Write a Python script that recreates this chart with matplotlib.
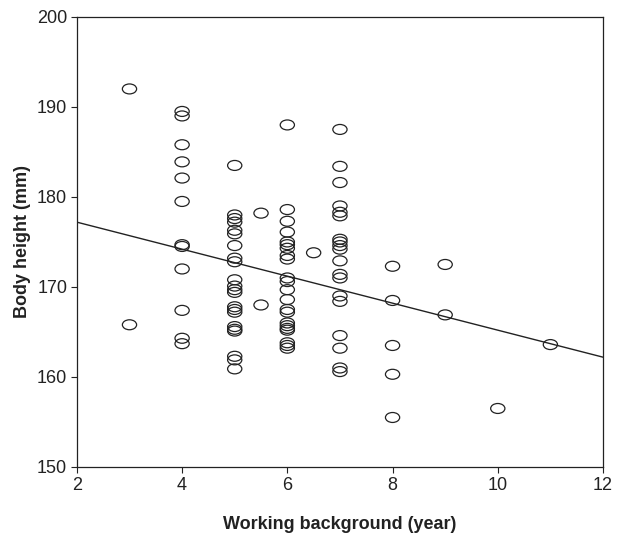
import matplotlib
matplotlib.use("Agg")
import matplotlib.pyplot as plt
import numpy as np
from matplotlib.path import Path
from matplotlib.transforms import Affine2D

plt.rcParams['font.family'] = ['Liberation Sans', 'DejaVu Sans']

x_years = [3, 3,
           4, 4, 4, 4, 4, 4, 4, 4, 4, 4, 4, 4,
           5, 5, 5, 5, 5, 5, 5, 5, 5, 5, 5, 5, 5, 5, 5, 5, 5, 5, 5, 5, 5, 5,
           5.5, 5.5,
           6, 6, 6, 6, 6, 6, 6, 6, 6, 6, 6, 6, 6, 6, 6, 6, 6, 6, 6, 6, 6, 6,
           6.5,
           7, 7, 7, 7, 7, 7, 7, 7, 7, 7, 7, 7, 7, 7, 7, 7, 7, 7, 7,
           8, 8, 8, 8, 8,
           9, 9,
           10,
           11]
height_mm = [192.0, 165.8,
             189.5, 189.0, 185.8, 183.9, 182.1, 179.5, 174.7, 174.5, 172.0, 167.4, 164.3, 163.7,
             183.5, 178.0, 177.6, 177.2, 176.3, 175.9, 174.6, 173.2, 172.8, 170.8, 170.1, 169.7, 169.4, 167.8, 167.5, 167.2, 165.6, 165.3, 165.1, 162.3, 161.9, 160.9,
             178.2, 168.0,
             188.0, 178.6, 177.3, 176.1, 175.0, 174.7, 174.3, 173.5, 173.1, 171.0, 170.6, 169.7, 168.6, 167.5, 167.2, 166.0, 165.7, 165.4, 165.2, 163.8, 163.5, 163.2,
             173.8,
             187.5, 183.4, 181.6, 179.0, 178.3, 177.9, 175.3, 175.0, 174.6, 174.2, 172.9, 171.4, 171.0, 169.0, 168.4, 164.6, 163.2, 161.0, 160.6,
             172.3, 168.5, 163.5, 160.3, 155.5,
             172.5, 166.9,
             156.5,
             163.6]
fit_intercept = 180.2
fit_slope = -1.5

x_ticks = [2, 4, 6, 8, 10, 12]
y_ticks = [150, 160, 170, 180, 190, 200]

fig = plt.figure(figsize=(6.2, 5.39), dpi=100)
ax = fig.add_axes([0.124, 0.1336, 0.8486, 0.835])

ellipse = Path.unit_circle().transformed(Affine2D().scale(1.0, 0.7))
ax.scatter(x_years, height_mm, marker=ellipse, s=105, facecolors='none',
           edgecolors='#222222', linewidths=0.9, zorder=3)

xl = np.array([2, 12])
ax.plot(xl, fit_intercept + fit_slope * xl, color='#222222', lw=1.0, zorder=2)

ax.set_xlim(2, 12)
ax.set_ylim(150, 200)
ax.set_xticks(x_ticks)
ax.set_yticks(y_ticks)
ax.tick_params(direction='out', length=4, width=0.8, labelsize=13, colors='#222222', pad=3)
for s in ax.spines.values():
    s.set_linewidth(0.9)
    s.set_color('#222222')
ax.set_xlabel('Working background (year)', fontsize=13, fontweight='bold', labelpad=16, color='#222222')
ax.set_ylabel('Body height (mm)', fontsize=13, fontweight='bold', labelpad=4, color='#222222')

fig.savefig('out.png', dpi=100)
